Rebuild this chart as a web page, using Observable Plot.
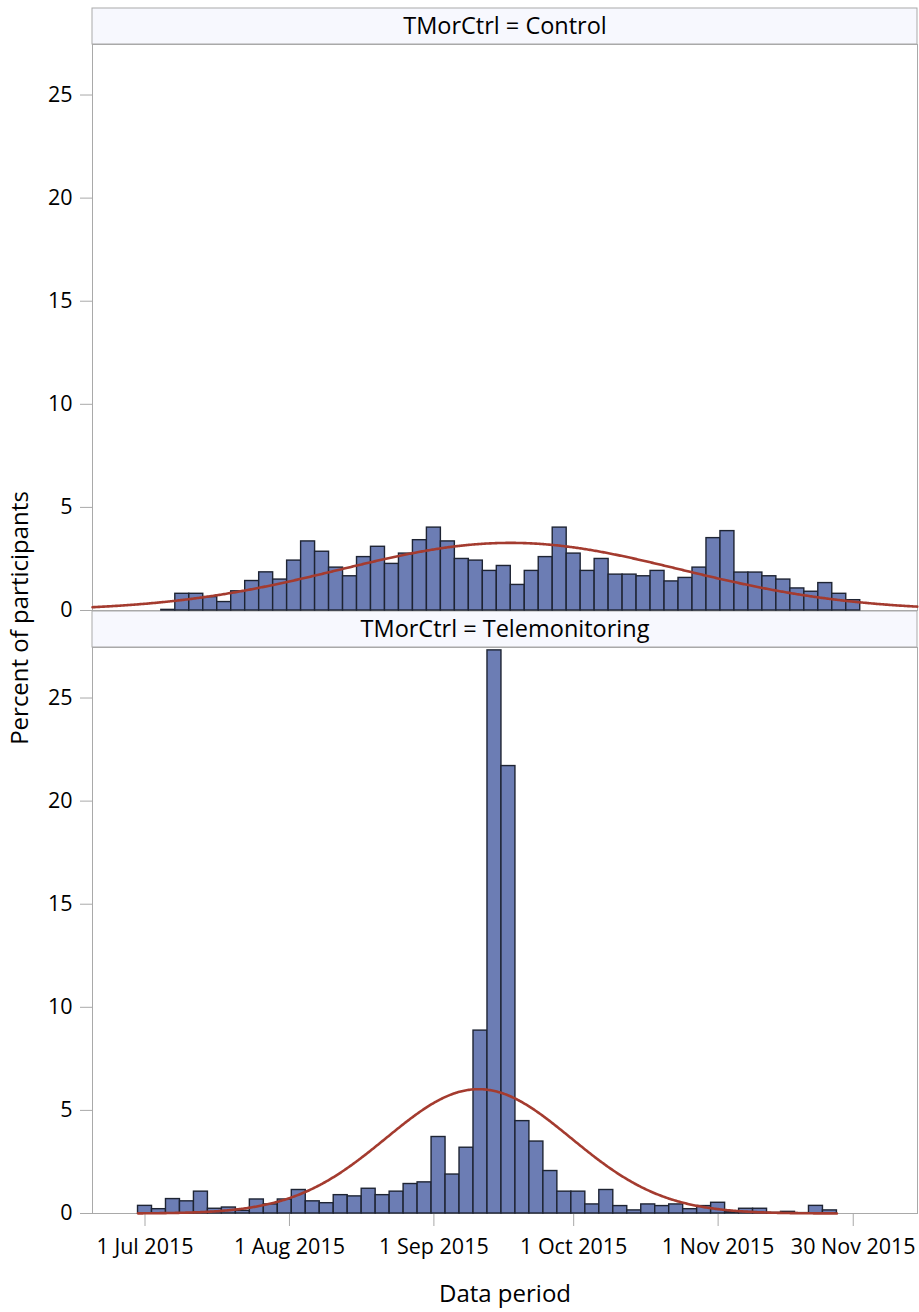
<!DOCTYPE html>
<html><head><meta charset="utf-8">
<script src="https://cdn.jsdelivr.net/npm/d3@7"></script>
<script src="https://cdn.jsdelivr.net/npm/@observablehq/plot@0.6"></script>
<style>body{margin:0;background:#fff;}</style>
</head><body><div id="chart"></div>
<script>
// ---- data ----
const panels = ["Control", "Telemonitoring"];
const binDays = 3;
const controlFirstBinMid = "2015-07-06";
const teleFirstBinMid = "2015-07-01";
const controlPct = [0.03, 0.81, 0.81, 0.65, 0.41, 0.93, 1.43, 1.85, 1.50, 2.42, 3.35, 2.85, 2.08, 1.66, 2.59, 3.09, 2.26, 2.76, 3.41, 4.02, 3.35, 2.50, 2.42, 1.92, 2.16, 1.24, 1.92, 2.59, 4.02, 2.76, 1.92, 2.50, 1.74, 1.74, 1.66, 1.92, 1.41, 1.58, 2.08, 3.51, 3.85, 1.84, 1.84, 1.66, 1.50, 1.07, 0.91, 1.33, 0.81, 0.50];
const telePct = [0.37, 0.21, 0.70, 0.59, 1.06, 0.23, 0.29, 0.13, 0.68, 0.44, 0.68, 1.14, 0.59, 0.50, 0.89, 0.83, 1.20, 0.89, 1.06, 1.43, 1.51, 3.71, 1.89, 3.19, 8.87, 27.31, 21.70, 4.48, 3.49, 2.06, 1.06, 1.06, 0.44, 1.14, 0.36, 0.15, 0.44, 0.36, 0.44, 0.21, 0.36, 0.52, 0.06, 0.23, 0.23, 0.03, 0.08, 0.02, 0.37, 0.15];
// normal fit parameters (mean date, sd in days)
const controlFitMean = "2015-09-17T10:00", controlFitSd = 36.5;
const teleFitMean = "2015-09-10T14:00", teleFitSd = 19.85;
const xTicks = ["2015-07-01", "2015-08-01", "2015-09-01", "2015-10-01", "2015-11-01", "2015-11-30"];
const yTicks = [0, 5, 10, 15, 20, 25];
const xDomainStr = ["2015-06-19T17:30", "2015-12-13T19:00"];
const yMax = 27.45;

// ---- helpers ----
const DAY = 864e5;
const utc = s => new Date(s.length === 10 ? s + "T00:00:00Z" : s + ":00Z");
const xDomain = xDomainStr.map(utc);

function binsFor(panel, firstMid, pct) {
  const m0 = +utc(firstMid);
  return pct.map((v, i) => ({
    panel,
    x1: new Date(m0 + (i * binDays - binDays / 2) * DAY),
    x2: new Date(m0 + (i * binDays + binDays / 2) * DAY),
    pct: v
  }));
}
const bars = [...binsFor("Control", controlFirstBinMid, controlPct), ...binsFor("Telemonitoring", teleFirstBinMid, telePct)];

function fitCurve(panel, meanStr, sd, from, to) {
  const mu = +utc(meanStr);
  const k = 100 * binDays / (sd * Math.sqrt(2 * Math.PI));
  const pts = [];
  for (let t = +from; t <= +to + 1; t += DAY / 4) {
    const z = (t - mu) / (sd * DAY);
    pts.push({panel, date: new Date(Math.min(t, +to)), pct: k * Math.exp(-0.5 * z * z)});
  }
  return pts;
}
const teleBars = bars.filter(d => d.panel === "Telemonitoring");
const curves = [
  ...fitCurve("Control", controlFitMean, controlFitSd, xDomain[0], xDomain[1]),
  ...fitCurve("Telemonitoring", teleFitMean, teleFitSd, teleBars[0].x1, teleBars[teleBars.length - 1].x2)
];

// ---- layout ----
const panelPx = 566, gapPx = 37, headerPx = 36;
const pxPerUnit = panelPx / yMax;
const headerTop = yMax + headerPx / pxPerUnit;
const headers = panels.map(p => ({panel: p}));
const gray = "#a9a9a9";

const chart = Plot.plot({
  width: 919,
  height: 1312,
  marginTop: 44,
  marginBottom: 99,
  marginLeft: 92,
  marginRight: 2,
  style: {fontFamily: "'Open Sans', sans-serif", fontSize: "21.5px", color: "#000", background: "#fff"},
  x: {type: "utc", domain: xDomain, ticks: xTicks.map(utc), tickFormat: d3.utcFormat("%-d %b %Y"), tickSize: 13, tickPadding: 12, label: null},
  y: {domain: [0, yMax], ticks: yTicks, tickSize: 12, tickPadding: 8, label: null},
  fy: {domain: panels, padding: gapPx / (panelPx + gapPx), paddingOuter: 0, axis: null, label: null},
  marks: [
    Plot.rect(headers, {x1: () => xDomain[0], x2: () => xDomain[1], y1: yMax, y2: headerTop, fy: "panel", fill: "#f7f8fe", stroke: gray, strokeWidth: 1}),
    Plot.text(headers, {text: d => `TMorCtrl = ${d.panel}`, frameAnchor: "top", dy: -18, lineAnchor: "middle", fy: "panel", fontSize: 23.5, fill: "#000"}),
    Plot.frame({stroke: gray, strokeWidth: 1}),
    Plot.rect(bars, {x1: "x1", x2: "x2", y1: 0, y2: "pct", fy: "panel", fill: "#6c7db4", stroke: "#1e2433", strokeWidth: 1.4}),
    Plot.line(curves, {x: "date", y: "pct", z: "panel", fy: "panel", stroke: "#a43b2f", strokeWidth: 2.6})
  ]
});

const svg = d3.select(chart);
svg.selectAll('[aria-label="x-axis tick"] path, [aria-label="y-axis tick"] path, g.tick line').attr("stroke", gray);
svg.selectAll('[aria-label="x-axis"] path.domain, [aria-label="y-axis"] path.domain').remove();
svg.append("text")
  .attr("transform", "translate(28,618) rotate(-90)")
  .attr("text-anchor", "middle")
  .attr("font-size", 24)
  .attr("fill", "#000")
  .text("Percent of participants");
svg.append("text")
  .attr("x", 505).attr("y", 1302)
  .attr("text-anchor", "middle")
  .attr("font-size", 24)
  .attr("fill", "#000")
  .text("Data period");

document.getElementById("chart").append(chart);
</script>
</body></html>
